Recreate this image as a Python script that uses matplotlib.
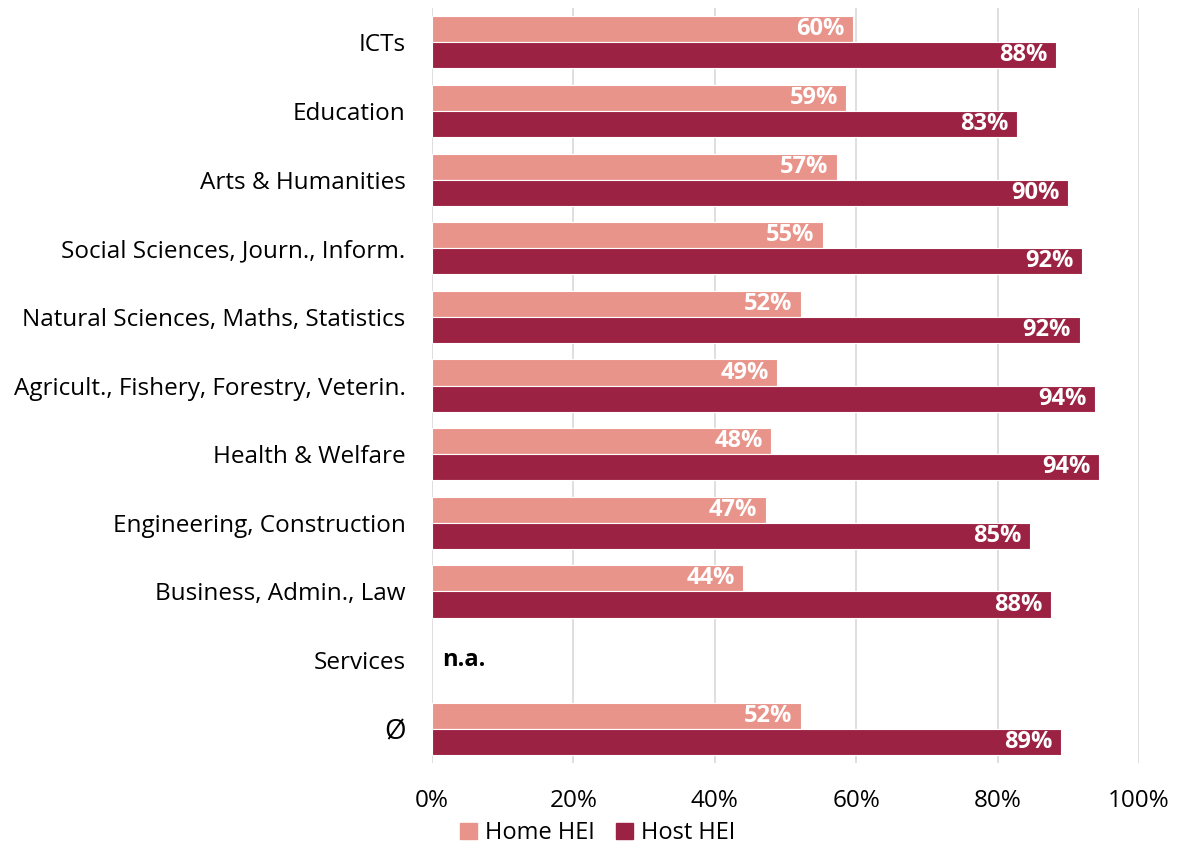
import numpy as np
import matplotlib
matplotlib.use('Agg')
import matplotlib.pyplot as plt
from matplotlib.patches import Patch

# valori (in %), None = dato non disponibile
categories = ['ICTs', 'Education', 'Arts & Humanities',
              'Social Sciences, Journ., Inform.',
              'Natural Sciences, Maths, Statistics',
              'Agricult., Fishery, Forestry, Veterin.',
              'Health & Welfare', 'Engineering, Construction',
              'Business, Admin., Law', 'Services', 'Ø']
home_hei = [59.6, 58.6, 57.3, 55.3, 52.2, 48.8, 48.0, 47.2, 44.0, None, 52.2]
host_hei = [88.3, 82.8, 90.0, 91.9, 91.6, 93.8, 94.3, 84.6, 87.6, None, 88.9]
x_ticks = [0, 20, 40, 60, 80, 100]

HOME_COL = '#E8948A'
HOST_COL = '#9B2242'
FS = 17.5

plt.rcParams['font.family'] = ['Open Sans', 'DejaVu Sans']

fig = plt.figure(figsize=(11.77, 8.46), dpi=100)
ax = fig.add_axes([0.367, 0.098, 0.6007, 0.8925])

y = np.arange(len(categories))
h = 0.38
for i, (hv, tv) in enumerate(zip(home_hei, host_hei)):
    if hv is None:
        ax.text(1.4, i, 'n.a.', ha='left', va='center', fontsize=FS - 0.5,
                fontweight='bold', color='black')
        continue
    ax.barh(i - h / 2, hv, height=h, color=HOME_COL, edgecolor='white',
            linewidth=0.8, zorder=3)
    ax.barh(i + h / 2, tv, height=h, color=HOST_COL, edgecolor='white',
            linewidth=0.8, zorder=3)
    ax.text(hv - 1.2, i - h / 2, f'{hv:.0f}%', ha='right', va='center',
            color='white', fontsize=FS - 0.5, fontweight='bold', zorder=4)
    ax.text(tv - 1.2, i + h / 2, f'{tv:.0f}%', ha='right', va='center',
            color='white', fontsize=FS - 0.5, fontweight='bold', zorder=4)

ax.set_xlim(0, 100)
ax.set_ylim(len(categories) - 0.5, -0.5)
ax.set_yticks(y)
ax.set_yticklabels(categories, fontsize=FS)
ax.get_yticklabels()[-1].set_fontsize(20)
ax.set_xticks(x_ticks)
ax.set_xticklabels([f'{t}%' for t in x_ticks], fontsize=FS)
ax.tick_params(axis='y', length=0, pad=19)
ax.tick_params(axis='x', length=0, pad=19)
ax.grid(axis='x', color='#D9D9D9', linewidth=1.2, zorder=0)
for s in ax.spines.values():
    s.set_visible(False)

handles = [Patch(color=HOME_COL, label='Home HEI'),
           Patch(color=HOST_COL, label='Host HEI')]
fig.legend(handles=handles, loc='center', bbox_to_anchor=(0.508, 0.015),
           ncol=2, frameon=False, fontsize=FS - 0.5, handlelength=0.7,
           handleheight=0.7, handletextpad=0.35, columnspacing=0.9,
           borderpad=0.1)

fig.savefig('out.png', dpi=100)
